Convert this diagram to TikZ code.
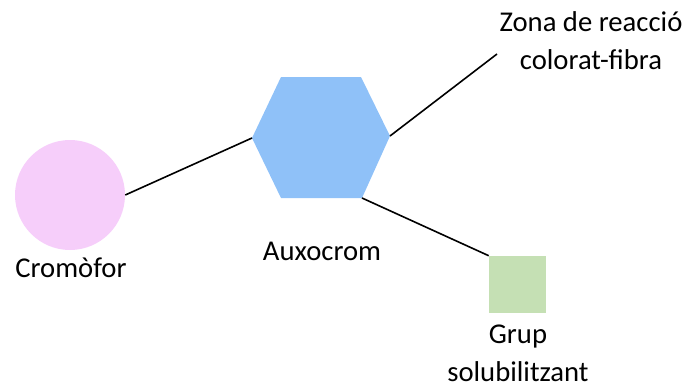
\documentclass[tikz,border=0pt]{standalone}
\usepackage{fontspec}
\setmainfont{Carlito}
\definecolor{pinkfill}{HTML}{F6CEFA}
\definecolor{bluefill}{HTML}{8FC1F8}
\definecolor{greenfill}{HTML}{C5E0B4}
\begin{document}
\begin{tikzpicture}[x=0.75pt,y=-0.75pt,
  lbl/.style={font=\fontsize{21.5}{28.5}\selectfont, align=center, inner sep=0pt},
  link/.style={line width=1.2pt, black}]
\useasboundingbox (0,0) rectangle (686,389);
% Cromofor
\node[circle, fill=pinkfill, minimum size=82.5pt, inner sep=0pt] (crom) at (70,195) {};
% Auxocrom hexagon
\coordinate (hl) at (252,138);
\coordinate (htl) at (281,77);
\coordinate (htr) at (361,77);
\coordinate (hr) at (390,136);
\coordinate (hbr) at (362,198);
\coordinate (hbl) at (281,198);
\fill[bluefill] (hl) -- (htl) -- (htr) -- (hr) -- (hbr) -- (hbl) -- cycle;
% Grup solubilitzant square
\node[rectangle, fill=greenfill, minimum width=42.75pt, minimum height=42.75pt, inner sep=0pt] (sq) at (517.5,284.5) {};
% free end
\coordinate (zend) at (497,54);
% connectors
\draw[link] (crom.east) -- (hl);
\draw[link] (hr) -- (zend);
\draw[link] (hbr) -- (sq.north west);
% labels
\node[lbl] (tzona) at (591,41) {Zona de reacció\\colorat-fibra};
\node[lbl, anchor=base] (tcrom) at (71,277) {Cromòfor};
\node[lbl, anchor=base] (taux) at (322,260) {Auxocrom};
\node[lbl] (tgrup) at (518,353) {Grup\\solubilitzant};
\end{tikzpicture}
\end{document}
